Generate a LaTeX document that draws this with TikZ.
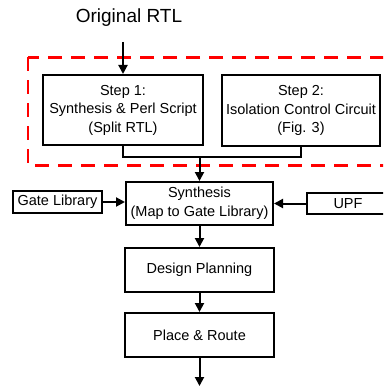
\documentclass[tikz,border=0pt]{standalone}
\usepackage{fontspec}
\setmainfont{Liberation Sans}
\usetikzlibrary{arrows.meta}
\begin{document}
\begin{tikzpicture}[x=1pt,y=-1pt,
  box/.style={draw, line width=2pt, inner sep=0pt, align=center,
    font=\fontsize{14.5}{18.5}\selectfont},
  flow/.style={line width=2pt, -{Triangle[length=9pt,width=9pt]}},
  link/.style={line width=2pt},
  region/.style={draw=red, line width=2.4pt, dash pattern=on 14pt off 9pt}]
  \useasboundingbox (0,0) rectangle (383,387);
  \clip (0,0) rectangle (383,387);

  % optional pre-processing steps
  \draw[region] (28,57.5) rectangle (420,165.5);

  \node (orig) at (129,18) {\fontsize{19}{22}\selectfont Original RTL};
  \coordinate (start) at (123,42);

  \node[box, minimum width=160pt, minimum height=70pt] (s1) at (123,110)
    {Step 1:\\Synthesis \& Perl Script\\(Split RTL)};
  \node[box, minimum width=158pt, minimum height=71pt] (s2) at (301,110.5)
    {Step 2:\\Isolation Control Circuit\\(Fig. 3)};
  \coordinate (merge) at (199.5,157);

  % main flow
  \node[box, minimum width=147pt, minimum height=43pt] (syn) at (199.5,203.5)
    {Synthesis\\(Map to Gate Library)};
  \node[box, minimum width=89pt, minimum height=22pt] (lib) at (57.5,202)
    {Gate Library};
  \node[box, minimum width=82pt, minimum height=21pt] (upf) at (348,203.5)
    {UPF};
  \node[box, minimum width=149pt, minimum height=44pt] (dp) at (199.5,270)
    {Design Planning};
  \node[box, minimum width=149pt, minimum height=44pt] (pr) at (199.5,335)
    {Place \& Route};
  \coordinate (out) at (199.5,386);

  \draw[flow] (start) -- (s1.north);
  \draw[link] (s1.south) |- (merge);
  \draw[link] (s2.south) |- (merge);
  \draw[flow] (merge) -- (syn.north);
  \draw[flow] (lib.east) -- (lib.east -| syn.west);
  \draw[flow] (upf.west) -- (upf.west -| syn.east);
  \draw[flow] (syn.south) -- (dp.north);
  \draw[flow] (dp.south) -- (pr.north);
  \draw[flow] (pr.south) -- (out);
\end{tikzpicture}
\end{document}
